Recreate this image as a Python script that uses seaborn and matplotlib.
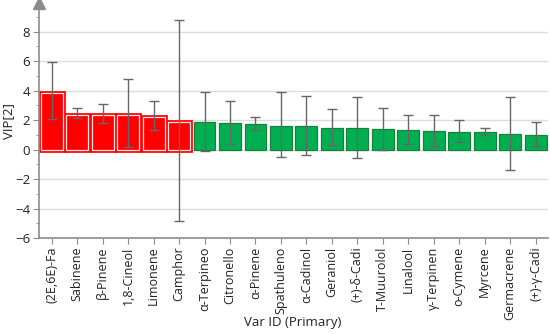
import numpy as np
import pandas as pd
import seaborn as sns
import matplotlib.pyplot as plt
from matplotlib.ticker import MultipleLocator

# VIP values
names = ["(2E,6E)-Fa", "Sabinene", "β-Pinene", "1,8-Cineol", "Limonene", "Camphor",
         "α-Terpineo", "Citronello", "α-Pinene", "Spathuleno", "α-Cadinol", "Geraniol",
         "(+)-δ-Cadi", "T-Muurolol", "Linalool", "γ-Terpinen", "o-Cymene", "Myrcene",
         "Germacrene", "(+)-γ-Cadi"]
vip = [3.86, 2.37, 2.35, 2.33, 2.25, 1.88, 1.88, 1.81, 1.74, 1.63, 1.63, 1.49,
       1.49, 1.38, 1.36, 1.27, 1.22, 1.20, 1.08, 1.02]
err_hi = [5.95, 2.83, 3.10, 4.79, 3.30, 8.80, 3.91, 3.30, 2.24, 3.91, 3.66, 2.76,
          3.57, 2.83, 2.35, 2.33, 1.99, 1.49, 3.57, 1.90]
err_lo = [2.08, 2.15, 1.81, 0.15, 1.36, -4.81, -0.11, 0.41, 1.33, -0.52, -0.34, 0.29,
          -0.56, 0.00, 0.41, 0.27, 0.52, 0.97, -1.36, 0.27]
group = ["high"] * 6 + ["low"] * 14

df = pd.DataFrame({"name": names, "vip": vip, "group": group})

sns.set_style("white")
plt.rcParams["font.family"] = ["Open Sans", "DejaVu Sans"]

fig = plt.figure(figsize=(5.5, 3.34), dpi=100)
ax = fig.add_axes([0.07, 0.287, 0.926, 0.704])

ax.grid(axis="y", color="#dcdcdc", linewidth=1)
ax.set_axisbelow(True)

sns.barplot(data=df, x="name", y="vip", hue="group",
            palette={"high": "#ff0000", "low": "#00b050"}, saturation=1,
            dodge=False, width=0.86, legend=False, ax=ax, zorder=2)

# outline: red bars get a red/white double frame, green bars a dark edge
for bar, g in zip(ax.patches, group):
    if g == "high":
        bar.set_edgecolor("#ff0000")
        bar.set_linewidth(3.4)
        ax.add_patch(plt.Rectangle(bar.get_xy(), bar.get_width(), bar.get_height(),
                                   fill=False, edgecolor="#ffe6e6", linewidth=0.9, zorder=3))
    else:
        bar.set_edgecolor("#17803a")
        bar.set_linewidth(0.9)

vip_a = np.array(vip)
yerr = [vip_a - np.array(err_lo), np.array(err_hi) - vip_a]
ax.errorbar(np.arange(len(names)), vip_a, yerr=yerr, fmt="none",
            ecolor="#666666", elinewidth=1, capsize=3.5, capthick=1, zorder=4)

ax.set_ylim(-6, 9.95)
ax.set_xlim(-0.52, 19.48)
ax.yaxis.set_major_locator(MultipleLocator(2))
ax.yaxis.set_minor_locator(MultipleLocator(1))

for s in ["top", "right"]:
    ax.spines[s].set_visible(False)
for s in ["left", "bottom"]:
    ax.spines[s].set_color("#8c8c8c")
    ax.spines[s].set_linewidth(1.2)

ax.tick_params(axis="x", rotation=90, labelsize=9, length=4, color="#8c8c8c",
               bottom=True, pad=2)
ax.tick_params(axis="y", which="major", labelsize=9.5, length=4, color="#8c8c8c",
               left=True, labelcolor="#222222", pad=2)
ax.tick_params(axis="y", which="minor", length=2.5, color="#8c8c8c", left=True)
for t in ax.get_xticklabels():
    t.set_color("#222222")

# arrow head on top of the y axis
ax.plot(0, 1, marker="^", markersize=8, color="#8c8c8c", transform=ax.transAxes,
        clip_on=False, zorder=5)

ax.set_xlabel("Var ID (Primary)", fontsize=9.5, color="#222222", va="center")
ax.xaxis.set_label_coords(0.5, -0.36)
ax.set_ylabel("VIP[2]", fontsize=9.5, color="#222222", va="center")
ax.yaxis.set_label_coords(-0.058, 0.5)

fig.savefig("out.png", dpi=100)
